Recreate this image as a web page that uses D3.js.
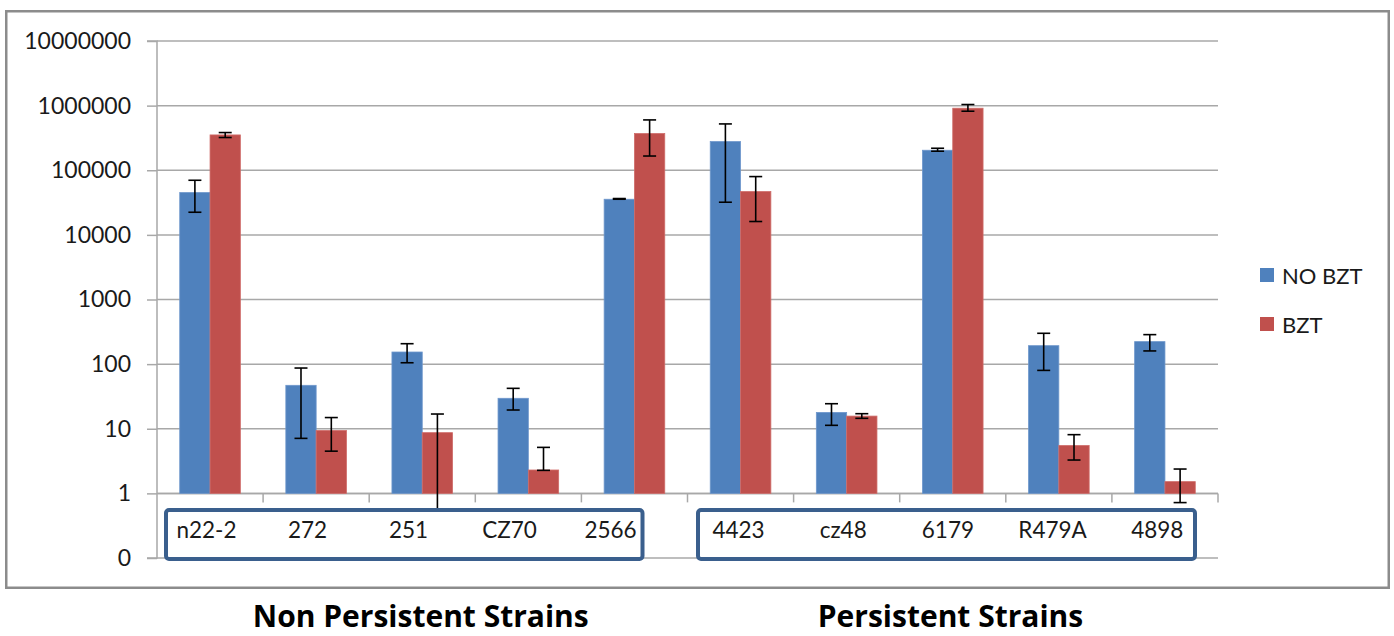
<!DOCTYPE html>
<html>
<head>
<meta charset="utf-8">
<script src="https://cdn.jsdelivr.net/npm/d3@7"></script>
<style>
  html, body { margin: 0; padding: 0; background: #fff; }
  svg { display: block; font-family: Lato, "Open Sans", sans-serif; }
</style>
</head>
<body>
<svg id="chart" width="1394" height="636"></svg>
<script>
// Strains (x categories)
const categories = ["n22-2", "272", "251", "CZ70", "2566", "4423", "cz48", "6179", "R479A", "4898"];
const seriesNames = ["NO BZT", "BZT"];

// Mean counts per strain
const noBzt = [45200, 47, 154, 29.6, 35600, 278000, 17.9, 204000, 193, 223];
const bzt   = [352000, 9.4, 8.7, 2.3, 370000, 46800, 15.7, 912000, 5.5, 1.52];

// Error bar ends (upper / lower); 0 means the lower end falls off the axis
const noBztHigh = [70000, 87, 207, 42.2, 36500, 521000, 24.4, 219000, 300, 286];
const noBztLow  = [22400, 7.1, 105, 19.5, 35600, 32000, 11.3, 197000, 80, 160];
const bztHigh   = [383000, 14.9, 16.9, 5.15, 601000, 79800, 17.1, 1040000, 8.1, 2.38];
const bztLow    = [321000, 4.5, 0, 2.27, 166000, 16100, 14.5, 819000, 3.28, 0.72];

// Log axis tick values and their printed labels (0.1 is printed as "0")
const yTicks = [0.1, 1, 10, 100, 1000, 10000, 100000, 1000000, 10000000];
const yTickLabels = ["0", "1", "10", "100", "1000", "10000", "100000", "1000000", "10000000"];

// Strain groups, each framed by a box around its labels
const groupTitles = ["Non Persistent Strains", "Persistent Strains"];
const groupFirst = [0, 5];
const groupLast = [4, 9];

const colors = ["#4F81BD", "#C0504D"];
const edgeColors = ["#6E97CC", "#CF6C69"];

const svg = d3.select("#chart");
const W = 1394, H = 636;

svg.append("rect").attr("width", W).attr("height", H).attr("fill", "#fff");

// Chart frame
svg.append("rect")
  .attr("x", 6.25).attr("y", 11.25)
  .attr("width", 1382.5).attr("height", 576.5)
  .attr("fill", "none").attr("stroke", "#8C8C8C").attr("stroke-width", 2.5);

const plotLeft = 157, plotRight = 1218;
const y = d3.scaleLog().domain([0.1, 1e7]).range([558, 41]);
const x = d3.scaleBand().domain(categories).range([plotLeft, plotRight]).paddingInner(0).paddingOuter(0);
const xs = d3.scaleBand().domain(seriesNames).range([0, x.bandwidth()]).paddingInner(0).paddingOuter(0.75);

const gridColor = "#A8A8A8";

// Horizontal gridlines
svg.append("g").selectAll("line").data(yTicks).join("line")
  .attr("x1", plotLeft).attr("x2", plotRight)
  .attr("y1", d => y(d)).attr("y2", d => y(d))
  .attr("stroke", gridColor).attr("stroke-width", 1.5);

// Y axis
const yAxis = d3.axisLeft(y)
  .tickValues(yTicks)
  .tickSize(10)
  .tickPadding(16)
  .tickFormat((d, i) => yTickLabels[i]);
const gy = svg.append("g").attr("transform", `translate(${plotLeft},0)`).call(yAxis);
gy.select(".domain").attr("stroke", gridColor).attr("stroke-width", 1.5).attr("d", `M-10,${y(1e7)}H0V${y(0.1)}H-10`);
gy.selectAll(".tick line").attr("stroke", gridColor).attr("stroke-width", 1.5);
gy.selectAll(".tick text")
  .attr("font-family", "Lato, sans-serif")
  .attr("font-size", 23)
  .attr("fill", "#1a1a1a");

// Category axis crossing at 1, ticks at category boundaries
const baseY = y(1);
const boundaries = d3.range(categories.length + 1).map(i => plotLeft + i * x.step());
svg.append("line")
  .attr("x1", plotLeft).attr("x2", plotRight)
  .attr("y1", baseY).attr("y2", baseY)
  .attr("stroke", gridColor).attr("stroke-width", 1.5);
svg.append("g").selectAll("line").data(boundaries.slice(1)).join("line")
  .attr("x1", d => d).attr("x2", d => d)
  .attr("y1", baseY).attr("y2", baseY + 9)
  .attr("stroke", gridColor).attr("stroke-width", 1.5);

// Bars
const series = [
  { name: seriesNames[0], values: noBzt, hi: noBztHigh, lo: noBztLow },
  { name: seriesNames[1], values: bzt, hi: bztHigh, lo: bztLow }
];

series.forEach((s, si) => {
  const g = svg.append("g");
  g.selectAll("rect").data(s.values).join("rect")
    .attr("x", (d, i) => x(categories[i]) + xs(s.name))
    .attr("width", xs.bandwidth())
    .attr("y", d => y(d))
    .attr("height", d => baseY - y(d))
    .attr("fill", colors[si])
    .attr("stroke", edgeColors[si])
    .attr("stroke-width", 0.8);
});

// Error bars
const capHalf = 6.5;
const yClamp = v => (v > 0.1 ? y(v) : y(0.1));
series.forEach((s, si) => {
  const g = svg.append("g").attr("stroke", "#000").attr("stroke-width", 1.6);
  s.values.forEach((v, i) => {
    const cx = x(categories[i]) + xs(s.name) + xs.bandwidth() / 2;
    const yHi = yClamp(s.hi[i]);
    const yLo = yClamp(s.lo[i]);
    g.append("line").attr("x1", cx).attr("x2", cx).attr("y1", yHi).attr("y2", yLo);
    g.append("line").attr("x1", cx - capHalf).attr("x2", cx + capHalf).attr("y1", yHi).attr("y2", yHi);
    if (s.lo[i] > 0.1) {
      g.append("line").attr("x1", cx - capHalf).attr("x2", cx + capHalf).attr("y1", yLo).attr("y2", yLo);
    }
  });
});

// Label boxes for the two strain groups
const boxInsetLeft = [9, 10.5];
const boxInsetRight = [45, 23];
const labelStep = [101, 104.7];
const titleShift = [16.5, 4];
const boxTop = 510, boxBottom = 559;

groupTitles.forEach((title, gi) => {
  const left = x(categories[groupFirst[gi]]) + boxInsetLeft[gi];
  const right = x(categories[groupLast[gi]]) + x.step() - boxInsetRight[gi];
  svg.append("rect")
    .attr("x", left).attr("y", boxTop)
    .attr("width", right - left).attr("height", boxBottom - boxTop)
    .attr("rx", 3).attr("ry", 3)
    .attr("fill", "#fff")
    .attr("stroke", "#3A5F8D").attr("stroke-width", 4);

  const labels = categories.slice(groupFirst[gi], groupLast[gi] + 1);
  svg.append("g").selectAll("text").data(labels).join("text")
    .attr("x", (d, i) => left + 40.5 + i * labelStep[gi])
    .attr("y", 537.5)
    .attr("text-anchor", "middle")
    .attr("font-family", "Lato, sans-serif")
    .attr("font-size", 22.5)
    .attr("fill", "#1a1a1a")
    .text(d => d);

  // Group title beneath the frame
  const mid = (left + right) / 2;
  svg.append("text")
    .attr("x", mid + titleShift[gi])
    .attr("y", 627)
    .attr("text-anchor", "middle")
    .attr("font-family", "'Open Sans', sans-serif")
    .attr("font-weight", "bold")
    .attr("font-size", 30)
    .attr("fill", "#000")
    .text(title);
});

// Legend
const legend = svg.append("g").attr("transform", "translate(1260,268)");
seriesNames.forEach((name, i) => {
  const row = legend.append("g").attr("transform", `translate(0,${i * 49})`);
  row.append("rect").attr("width", 14).attr("height", 14).attr("fill", colors[i]);
  row.append("text")
    .attr("x", 22).attr("y", 7)
    .attr("dominant-baseline", "central")
    .attr("font-family", "Lato, sans-serif")
    .attr("font-size", 22)
    .attr("fill", "#1a1a1a")
    .text(name);
});
</script>
</body>
</html>
